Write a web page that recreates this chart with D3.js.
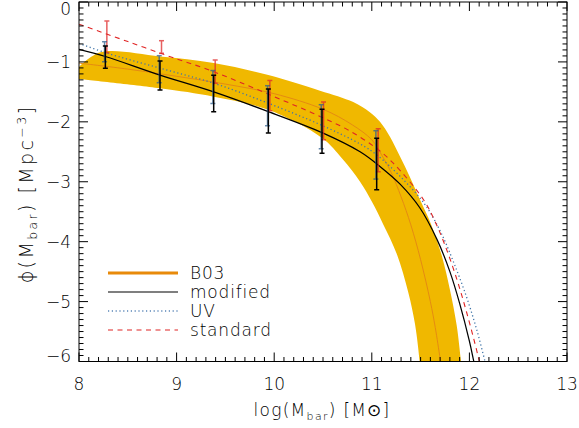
<!DOCTYPE html>
<html><head><meta charset="utf-8">
<script src="https://cdn.jsdelivr.net/npm/d3@7"></script>
<style>body{margin:0;background:#fff}svg{display:block}text{font-family:"DejaVu Sans",sans-serif;fill:#000;font-weight:300}</style>
</head><body><svg id="c" width="579" height="428"></svg>
<script>
// ---- data ----
const xTicks = [8, 9, 10, 11, 12, 13];
const yTicks = [0, -1, -2, -3, -4, -5, -6];

// B03 shaded band: upper and lower edges
const bandUpX = [8.0, 8.22, 8.83, 9.38, 9.94, 10.469, 10.81, 10.98, 11.084, 11.186, 11.289, 11.39, 11.494, 11.61, 11.72, 11.80, 11.87, 11.914, 11.935];
const bandUpY = [-1.085, -0.84, -0.91, -1.02, -1.22, -1.48, -1.67, -1.84, -2.0, -2.25, -2.58, -2.92, -3.30, -3.72, -4.25, -4.80, -5.40, -6.0, -6.3];
const bandLoX = [8.0, 8.83, 9.38, 9.94, 10.49, 10.70, 10.88, 11.0, 11.12, 11.255, 11.374, 11.443, 11.49, 11.50];
const bandLoY = [-1.285, -1.44, -1.58, -1.80, -2.27, -2.62, -3.0, -3.33, -3.72, -4.2, -4.85, -5.38, -6.0, -6.2];

// B03 central line
const b03X = [8.0, 8.5, 9.0, 9.5, 10.0, 10.5, 10.8, 11.0, 11.1, 11.2, 11.3, 11.4, 11.5, 11.6, 11.65, 11.7, 11.72];
const b03Y = [-1.02, -1.12, -1.24, -1.37, -1.53, -1.79, -2.05, -2.30, -2.55, -2.85, -3.25, -3.72, -4.30, -5.0, -5.43, -5.95, -6.15];

// modified
const modX = [8.0, 8.27, 8.83, 9.38, 9.94, 10.49, 10.88, 11.08, 11.29, 11.49, 11.67, 11.80, 11.90, 12.0, 12.04, 12.07];
const modY = [-0.79, -0.91, -1.22, -1.50, -1.83, -2.18, -2.50, -2.74, -3.04, -3.43, -3.97, -4.50, -5.03, -5.66, -5.96, -6.2];

// UV
const uvX = [8.0, 8.27, 8.83, 9.38, 9.94, 10.49, 10.88, 11.05, 11.32, 11.545, 11.70, 11.835, 11.97, 12.075, 12.16, 12.19];
const uvY = [-0.69, -0.845, -1.105, -1.355, -1.69, -2.06, -2.37, -2.55, -2.96, -3.38, -3.82, -4.33, -4.92, -5.47, -6.0, -6.2];

// standard
const stdX = [8.0, 8.5, 9.0, 9.24, 9.5, 10.16, 10.47, 10.75, 11.03, 11.22, 11.53, 11.65, 11.75, 11.87, 11.97, 12.06, 12.11, 12.14];
const stdY = [-0.37, -0.66, -0.95, -1.08, -1.24, -1.69, -1.91, -2.13, -2.42, -2.69, -3.30, -3.67, -4.06, -4.62, -5.17, -5.72, -6.05, -6.25];

// error bars (same bins for all three)
const binX = [8.27, 8.83, 9.38, 9.94, 10.49, 11.05];
const modHi = [-0.734, -0.985, -1.224, -1.452, -1.791, -2.275];
const modLo = [-1.107, -1.469, -1.831, -2.187, -2.526, -3.133];
const uvHi  = [-0.663, -0.896, -1.144, -1.397, -1.714, -2.148];
const uvLo  = [-0.997, -1.347, -1.694, -2.065, -2.449, -2.955];
const stdHi = [-0.317, -0.646, -0.968, -1.310, -1.669, -2.115];
const stdLo = [-0.846, -0.856, -1.357, -1.815, -2.299, -2.833];

const legendLabels = ["B03", "modified", "UV", "standard"];

// ---- drawing ----
const m = {l: 79, r: 567, t: 2, b: 361.5};
const svg = d3.select("#c");
const x = d3.scaleLinear().domain([8, 13]).range([m.l, m.r]);
const y = d3.scaleLinear().domain([-6, 0]).range([m.b, m.t]);

svg.append("defs").append("clipPath").attr("id", "clip")
  .append("rect").attr("x", m.l).attr("y", m.t).attr("width", m.r - m.l).attr("height", m.b - m.t);
const g = svg.append("g").attr("clip-path", "url(#clip)");

const zip = (xs, ys) => xs.map((v, i) => [v, ys[i]]);
const line = d3.line().x(d => x(d[0])).y(d => y(d[1])).curve(d3.curveCatmullRom.alpha(0.5));

// band
const up = zip(bandUpX, bandUpY);
const lo = zip(bandLoX, bandLoY).reverse();
g.append("path").attr("d", line(up) + "L" + line(lo).slice(1) + "Z")
  .attr("fill", "#f0b800").attr("stroke", "none");

g.append("path").attr("d", line(zip(b03X, b03Y))).attr("fill", "none")
  .attr("stroke", "#e48a12").attr("stroke-width", 1);

g.append("path").attr("d", line(zip(uvX, uvY))).attr("fill", "none")
  .attr("stroke", "#3f74a8").attr("stroke-width", 1.3).attr("stroke-dasharray", "1.2,2.6");
g.append("path").attr("d", line(zip(stdX, stdY))).attr("fill", "none")
  .attr("stroke", "#e02424").attr("stroke-width", 1.1).attr("stroke-dasharray", "5,4.5");
g.append("path").attr("d", line(zip(modX, modY))).attr("fill", "none")
  .attr("stroke", "#000").attr("stroke-width", 1.25);

// error bars
function bars(hi, loA, color, dx, op) {
  const gg = g.append("g").attr("stroke", color).attr("stroke-width", 1.5).attr("opacity", op);
  binX.forEach((bx, i) => {
    const cx = x(bx) + dx;
    gg.append("line").attr("x1", cx).attr("x2", cx).attr("y1", y(hi[i])).attr("y2", y(loA[i]));
    [hi[i], loA[i]].forEach(v => gg.append("line").attr("x1", cx - 2.5).attr("x2", cx + 2.5).attr("y1", y(v)).attr("y2", y(v)));
  });
}
bars(stdHi, stdLo, "#e02a2a", 1.5, 0.75);
bars(uvHi, uvLo, "#2f5f8f", -0.8, 0.75);
bars(modHi, modLo, "#000", 0, 1);

// axes box and ticks
const ax = svg.append("g").attr("stroke", "#000").attr("stroke-width", 1);
ax.append("rect").attr("x", m.l).attr("y", m.t).attr("width", m.r - m.l).attr("height", m.b - m.t).attr("fill", "none");
for (let k = 0; k <= 50; k++) {
  const px = x(8 + k * 0.1), len = (k % 10 === 0) ? 9 : 4.5;
  ax.append("line").attr("x1", px).attr("x2", px).attr("y1", m.b).attr("y2", m.b - len);
  ax.append("line").attr("x1", px).attr("x2", px).attr("y1", m.t).attr("y2", m.t + len);
}
for (let k = 0; k <= 60; k++) {
  const py = y(-6 + k * 0.1), len = (k % 10 === 0) ? 9 : 4.5;
  ax.append("line").attr("x1", m.l).attr("x2", m.l + len).attr("y1", py).attr("y2", py);
  ax.append("line").attr("x1", m.r).attr("x2", m.r - len).attr("y1", py).attr("y2", py);
}
svg.selectAll(".xt").data(xTicks).enter().append("text")
  .attr("x", d => x(d)).attr("y", 390).attr("text-anchor", "middle")
  .attr("font-size", 17).text(d => d);
svg.selectAll(".yt").data(yTicks).enter().append("text")
  .attr("x", 71).attr("y", d => Math.min(Math.max(y(d) + 6, 15), 361.5)).attr("text-anchor", "end")
  .attr("font-size", 17).text(d => d === 0 ? "0" : "\u2212" + Math.abs(d));

// axis titles
const xt = svg.append("text").attr("x", 322).attr("y", 416).attr("text-anchor", "middle")
  .attr("font-size", 17).attr("letter-spacing", 1.3);
xt.append("tspan").text("log(M");
xt.append("tspan").attr("font-size", 11).attr("dy", 4).text("bar");
xt.append("tspan").attr("dy", -4).text(")  [M");
xt.append("tspan").text("\u2299]");

const yt = svg.append("text").attr("transform", "translate(33,194) rotate(-90)").attr("text-anchor", "middle")
  .attr("font-size", 19).attr("letter-spacing", 2.4);
yt.append("tspan").text("\u03d5");
yt.append("tspan").text("(M");
yt.append("tspan").attr("font-size", 12.5).attr("dy", 4).text("bar");
yt.append("tspan").attr("dy", -4).text(")  [Mpc");
yt.append("tspan").attr("font-size", 12.5).attr("dy", -7).text("\u22123");
yt.append("tspan").attr("dy", 7).text("]");

// legend
const lg = svg.append("g");
const ly = [273, 292, 311, 330];
const lstyle = [
  {c: "#e88a0a", w: 3, d: null},
  {c: "#555", w: 1.5, d: null},
  {c: "#5a86b8", w: 1.3, d: "1.2,2.6"},
  {c: "#e02424", w: 1.1, d: "5,4.5"}
];
legendLabels.forEach((t, i) => {
  const l = lg.append("line").attr("x1", 108).attr("x2", 178).attr("y1", ly[i]).attr("y2", ly[i])
    .attr("stroke", lstyle[i].c).attr("stroke-width", lstyle[i].w);
  if (lstyle[i].d) l.attr("stroke-dasharray", lstyle[i].d);
  lg.append("text").attr("x", 190).attr("y", ly[i] + 5.5).attr("font-size", 17)
    .attr("letter-spacing", 0.8).attr("fill", "#222").text(t);
});
</script></body></html>
